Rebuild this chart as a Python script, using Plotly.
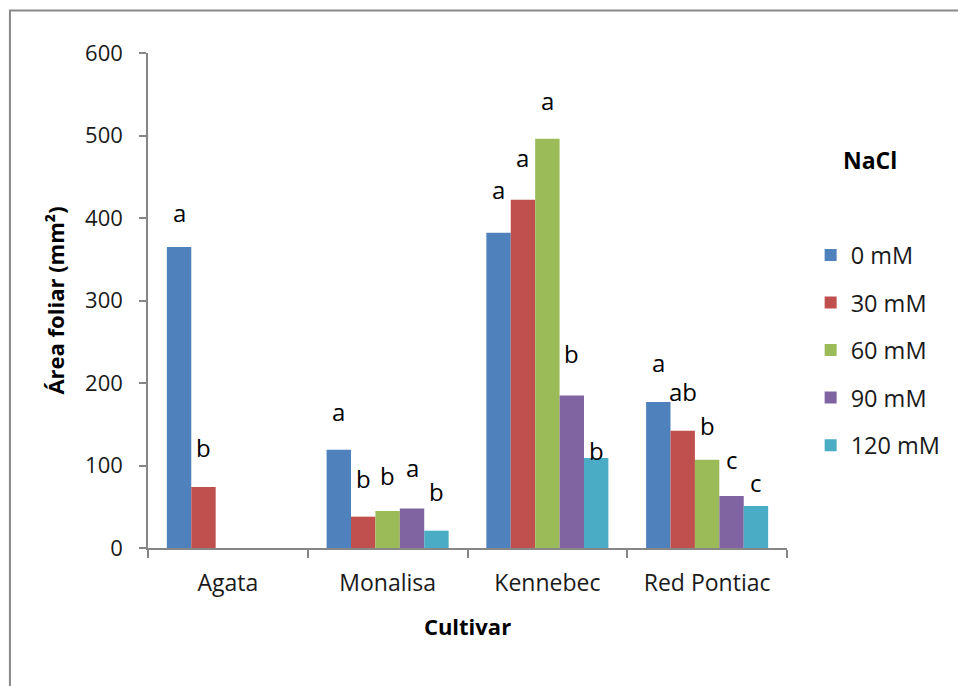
import plotly.graph_objects as go

# Leaf area by cultivar and NaCl concentration
cultivars = ["Agata", "Monalisa", "Kennebec", "Red Pontiac"]
treatments = ["0 mM", "30 mM", "60 mM", "90 mM", "120 mM"]
colors = ["#4F81BD", "#C0504D", "#9BBB59", "#8064A2", "#4BACC6"]

area_0 = [365, 119, 382, 177]
area_30 = [74, 38, 422, 142]
area_60 = [None, 45, 496, 107]
area_90 = [None, 48, 185, 63]
area_120 = [None, 21, 109, 51]
series = [area_0, area_30, area_60, area_90, area_120]

# Significance letters and the height (data units) they are written at
letters_0 = ["a", "a", "a", "a"]
letters_30 = ["b", "b", "a", "ab"]
letters_60 = [None, "b", "a", "b"]
letters_90 = [None, "a", "b", "c"]
letters_120 = [None, "b", "b", "c"]
letters = [letters_0, letters_30, letters_60, letters_90, letters_120]

letter_y_0 = [407, 166, 434, 225]
letter_y_30 = [122, 84, 473, 190]
letter_y_60 = [None, 88, 542, 148]
letter_y_90 = [None, 97, 236, 107]
letter_y_120 = [None, 68, 118, 79]
letter_y = [letter_y_0, letter_y_30, letter_y_60, letter_y_90, letter_y_120]

FONT = "Open Sans"
BARGAP = 0.236
bar_w = (1 - BARGAP) / len(treatments)

fig = go.Figure()
for i, (name, vals, col) in enumerate(zip(treatments, series, colors)):
    fig.add_trace(go.Bar(
        x=cultivars, y=vals, name=name, legendgroup=name,
        marker=dict(color=col, line=dict(width=0)),
    ))

annotations = []
for i in range(len(treatments)):
    for j in range(len(cultivars)):
        if letters[i][j] is None:
            continue
        annotations.append(dict(
            x=j + (i - (len(treatments) - 1) / 2) * bar_w,
            y=letter_y[i][j], xref="x", yref="y",
            xanchor="center", yanchor="middle",
            text=letters[i][j], showarrow=False,
            font=dict(family=FONT, size=24, color="#000000"),
        ))

# Legend heading
annotations.append(dict(
    x=(872 - 148) / 641, y=(548 - 160) / 495, xref="paper", yref="paper",
    xanchor="center", yanchor="middle", text="<b>NaCl</b>",
    showarrow=False, font=dict(family=FONT, size=23, color="#000000"),
))

axis_gray = "#868686"
fig.update_layout(
    width=958, height=686,
    margin=dict(l=148, r=169, t=53, b=138),
    paper_bgcolor="white", plot_bgcolor="white",
    barmode="group", bargap=BARGAP, bargroupgap=0,
    font=dict(family=FONT, size=23, color="#1a1a1a"),
    annotations=annotations,
    legend=dict(
        x=1.037, y=0.636, xanchor="left", yanchor="top",
        font=dict(family=FONT, size=23.5, color="#1a1a1a"),
        tracegroupgap=14, itemclick=False, bgcolor="rgba(0,0,0,0)",
    ),
    showlegend=True,
    shapes=[dict(
        type="rect", xref="paper", yref="paper",
        x0=(9.5 - 148) / 641, x1=1.5, y0=-0.5, y1=(548 - 10.5) / 495,
        line=dict(color="#888888", width=2), fillcolor="rgba(0,0,0,0)",
        layer="below",
    )],
)

fig.update_xaxes(
    type="category", range=[-0.5, 3.5],
    showline=True, linecolor=axis_gray, linewidth=1.5,
    ticks="outside", tickson="boundaries", ticklen=8, tickcolor=axis_gray,
    tickwidth=1.5, ticklabelstandoff=14, showgrid=False, zeroline=False,
    tickfont=dict(family=FONT, size=23, color="#1a1a1a"),
    title=dict(text="<b>Cultivar</b>", standoff=22,
               font=dict(family=FONT, size=22, color="#000000")),
)
fig.update_yaxes(
    range=[0, 600], dtick=100, tick0=0,
    showline=True, linecolor=axis_gray, linewidth=1.5,
    ticks="outside", ticklen=7, tickcolor=axis_gray, tickwidth=1.5,
    ticklabelstandoff=12, showgrid=False, zeroline=False,
    tickfont=dict(family=FONT, size=22, color="#1a1a1a"),
    title=dict(text="<b>Área foliar (mm²)</b>", standoff=14,
               font=dict(family=FONT, size=22, color="#000000")),
)

fig.write_html("out.html")
